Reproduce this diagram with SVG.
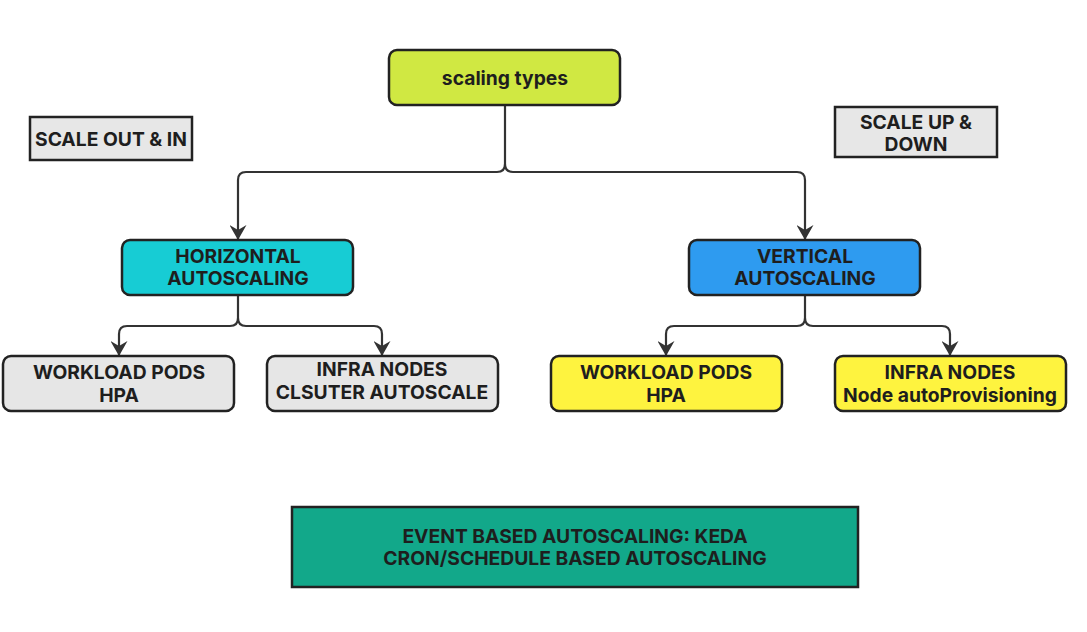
<svg xmlns="http://www.w3.org/2000/svg" width="1087" height="632" viewBox="0 0 1087 632">
<defs>
<marker id="arr" viewBox="0 0 15 17" refX="14" refY="8.5" markerWidth="15" markerHeight="17" markerUnits="userSpaceOnUse" orient="auto">
<path d="M0,0 L15,8.5 L0,17 L5,8.5 Z" fill="#333"/>
</marker>
<style>
.box{stroke:#222;stroke-width:2.5}
.t{font-family:Inter,"Liberation Sans",sans-serif;font-weight:700;font-size:19.3px;fill:#1e1e1e;text-anchor:middle}
.c{fill:none;stroke:#333;stroke-width:2.2}
</style>
</defs>
<rect width="1087" height="632" fill="#fff"/>
<g id="connectors">
<path class="c" d="M505,105 V164 Q505,172 497,172 H246 Q238,172 238,180 V239" marker-end="url(#arr)"/>
<path class="c" d="M505,164 Q505,172 513,172 H797 Q805,172 805,180 V239" marker-end="url(#arr)"/>
<path class="c" d="M238,295 V318 Q238,326 230,326 H127 Q119,326 119,334 V355" marker-end="url(#arr)"/>
<path class="c" d="M238,318 Q238,326 246,326 H374 Q382,326 382,334 V355" marker-end="url(#arr)"/>
<path class="c" d="M805,295 V318 Q805,326 797,326 H674 Q666,326 666,334 V355" marker-end="url(#arr)"/>
<path class="c" d="M805,318 Q805,326 813,326 H942 Q950,326 950,334 V355" marker-end="url(#arr)"/>
</g>
<g id="scaling-types">
<rect class="box" x="389" y="50" width="231" height="55" rx="8" fill="#d0e842"/>
<text class="t" x="505" y="85">scaling types</text>
</g>
<g id="scale-out-in">
<rect class="box" x="30" y="117" width="162" height="43" fill="#e7e7e7" stroke-width="2"/>
<text class="t" x="111" y="146">SCALE OUT &amp; IN</text>
</g>
<g id="scale-up-down">
<rect class="box" x="835" y="107" width="162" height="50" fill="#e7e7e7" stroke-width="2"/>
<text class="t" x="916" y="129">SCALE UP &amp;</text>
<text class="t" x="916" y="151">DOWN</text>
</g>
<g id="horizontal">
<rect class="box" x="122" y="240" width="231" height="55" rx="8" fill="#17ccd4"/>
<text class="t" x="238" y="263">HORIZONTAL</text>
<text class="t" x="238" y="285">AUTOSCALING</text>
</g>
<g id="vertical">
<rect class="box" x="689" y="240" width="231" height="55" rx="8" fill="#2e9bf0"/>
<text class="t" x="805" y="263">VERTICAL</text>
<text class="t" x="805" y="285">AUTOSCALING</text>
</g>
<g id="h-workload">
<rect class="box" x="3" y="356" width="231" height="55" rx="8" fill="#e6e6e6"/>
<text class="t" x="119" y="379">WORKLOAD PODS</text>
<text class="t" x="119" y="402">HPA</text>
</g>
<g id="h-infra">
<rect class="box" x="267" y="356" width="231" height="55" rx="8" fill="#e6e6e6"/>
<text class="t" x="382" y="376">INFRA NODES</text>
<text class="t" x="382" y="399">CLSUTER AUTOSCALE</text>
</g>
<g id="v-workload">
<rect class="box" x="551" y="356" width="231" height="55" rx="8" fill="#fef33f"/>
<text class="t" x="666" y="379">WORKLOAD PODS</text>
<text class="t" x="666" y="402">HPA</text>
</g>
<g id="v-infra">
<rect class="box" x="835" y="356" width="231" height="55" rx="8" fill="#fef33f"/>
<text class="t" x="950" y="379">INFRA NODES</text>
<text class="t" x="950" y="402">Node autoProvisioning</text>
</g>
<g id="event-based">
<rect class="box" x="292" y="507" width="566" height="80" fill="#12a88a" stroke-width="2"/>
<text class="t" x="575" y="543">EVENT BASED AUTOSCALING: KEDA</text>
<text class="t" x="575" y="565">CRON/SCHEDULE BASED AUTOSCALING</text>
</g>
</svg>
